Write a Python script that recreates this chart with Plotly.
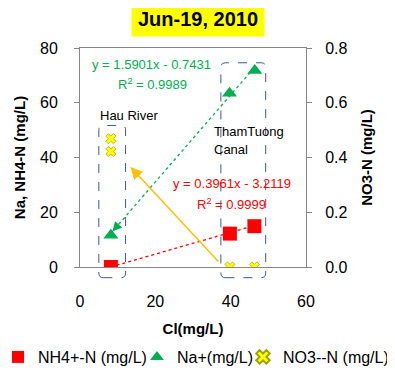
import plotly.graph_objects as go

# ---- data ----
cl_nh4 = [8.2, 39.8, 46.3]
nh4 = [0.0, 12.2, 14.9]
cl_na = [8.2, 39.7, 46.4]
na = [11.6, 63.5, 71.8]
cl_no3 = [8.2, 8.2, 39.8, 46.3]
no3 = [0.469, 0.422, 0.0, 0.0]
nh4_fit = (0.3961, -3.2119)
na_fit = (1.5901, -0.7431)
x_ticks = [0, 20, 40, 60]
y_ticks = [0, 20, 40, 60, 80]
y2_ticks = [0.0, 0.2, 0.4, 0.6, 0.8]

FONT = "Liberation Sans"
RED = "#FF0000"
GREEN = "#00B050"
YEL = "#FFFF00"
GRAY = "#868686"

fig = go.Figure()

# trendlines
tx_n = [min(cl_nh4), max(cl_nh4)]
fig.add_trace(go.Scatter(x=tx_n, y=[nh4_fit[0]*v + nh4_fit[1] for v in tx_n], mode="lines",
                         line=dict(color=RED, width=1.3, dash="dot"), showlegend=False, hoverinfo="skip"))
tx_a = [min(cl_na), max(cl_na)]
fig.add_trace(go.Scatter(x=tx_a, y=[na_fit[0]*v + na_fit[1] for v in tx_a], mode="lines",
                         line=dict(color=GREEN, width=1.3, dash="dot"), showlegend=False, hoverinfo="skip"))

fig.add_trace(go.Scatter(x=cl_nh4, y=nh4, mode="markers", name="NH4+-N (mg/L)", legend="legend",
                         marker=dict(symbol="square", size=14, color=RED)))
fig.add_trace(go.Scatter(x=cl_na, y=na, mode="markers", name="Na+(mg/L)", legend="legend2",
                         marker=dict(symbol="triangle-up", size=13, color=GREEN)))
fig.add_trace(go.Scatter(x=cl_no3, y=no3, mode="markers", name="NO3--N (mg/L)", yaxis="y2",
                         legend="legend3",
                         marker=dict(symbol="x", size=9, color=YEL, line=dict(color="#A0A000", width=0.7))))

def leg(xpx):
    return dict(orientation="h", x=xpx/387, xanchor="left", xref="container",
                y=0.049, yanchor="middle", yref="container", bgcolor="rgba(0,0,0,0)",
                font=dict(size=16), itemwidth=30, indentation=-10, itemsizing="constant")

fig.update_layout(
    width=387, height=367,
    margin=dict(l=72, r=89, t=40, b=108, autoexpand=False),
    paper_bgcolor="white", plot_bgcolor="white",
    font=dict(family=FONT, size=16, color="black"),
    showlegend=True,
    legend=leg(0), legend2=leg(139), legend3=leg(245),
    xaxis=dict(range=[0, 60], tickvals=x_ticks, showgrid=False, zeroline=False,
               showline=True, linecolor=GRAY, linewidth=1, mirror=True, ticks="",
               ticklabelstandoff=20,
               title=dict(text="<b>Cl(mg/L)</b>", font=dict(size=15), standoff=14)),
    yaxis=dict(range=[0, 80], tickvals=y_ticks, showgrid=False, zeroline=False,
               showline=True, linecolor=GRAY, linewidth=1, ticks="outside", ticklen=5,
               tickcolor=GRAY, ticklabelstandoff=13,
               title=dict(text="<b>Na, NH4-N (mg/L)</b>", font=dict(size=15), standoff=10)),
    yaxis2=dict(range=[0, 0.8], tickvals=y2_ticks, tickformat=".1f", overlaying="y", side="right",
                showgrid=False, zeroline=False, showline=True, linecolor=GRAY, linewidth=1,
                ticks="outside", ticklen=5, tickcolor=GRAY, ticklabelstandoff=10,
                title=dict(text="<b>NO3-N (mg/L)</b>", font=dict(size=15), standoff=14)),
)

# dashed rounded boxes (domain refs so they are not clipped)
def rbox(x0, x1, y0, y1, r=0.02):
    X0, X1 = x0/60, x1/60
    Y0, Y1 = y0/80, y1/80
    rx, ry = r, r*1.03
    return (f"M {X0+rx},{Y0} L {X1-rx},{Y0} Q {X1},{Y0} {X1},{Y0+ry} L {X1},{Y1-ry} "
            f"Q {X1},{Y1} {X1-rx},{Y1} L {X0+rx},{Y1} Q {X0},{Y1} {X0},{Y1-ry} "
            f"L {X0},{Y0+ry} Q {X0},{Y0} {X0+rx},{Y0} Z")

for b in [(5.0, 12.1, -3.9, 51.7), (37.4, 49.3, -3.9, 74.6)]:
    fig.add_shape(type="path", path=rbox(*b), xref="x domain", yref="y domain",
                  line=dict(color="#3F5A8A", width=1, dash="dash"), layer="above")

ann_font = dict(family=FONT, size=13)
fig.add_annotation(x=13.1, y=55.4, text="Hau River", showarrow=False, font=ann_font)
fig.add_annotation(x=35.0, y=49.6, text="ThamTuong", showarrow=False, xanchor="left", font=ann_font)
fig.add_annotation(x=35.0, y=42.9, text="Canal", showarrow=False, xanchor="left", font=ann_font)
fig.add_annotation(x=19.0, y=74.0, text="y = 1.5901x - 0.7431", showarrow=False,
                   font=dict(family=FONT, size=13, color=GREEN))
fig.add_annotation(x=19.3, y=67.0, text="R<sup>2</sup> = 0.9989", showarrow=False,
                   font=dict(family=FONT, size=13, color=GREEN))
fig.add_annotation(x=40.3, y=30.4, text="y = 0.3961x - 3.2119", showarrow=False,
                   font=dict(family=FONT, size=13, color=RED))
fig.add_annotation(x=40.2, y=23.1, text="R<sup>2</sup> = 0.9999", showarrow=False,
                   font=dict(family=FONT, size=13, color=RED))

# yellow arrow (TT canal -> Hau river)
fig.add_annotation(x=13.4, y=36.5, ax=37.1, ay=1.5, axref="x", ayref="y", xref="x", yref="y",
                   text="", showarrow=True, arrowhead=2, arrowsize=1.6, arrowwidth=1.5,
                   arrowcolor="#FFC000")
# green arrowhead at the Hau end of the Na trendline
fig.add_annotation(x=8.6, y=na_fit[0]*8.6 + na_fit[1], ax=10.0, ay=na_fit[0]*10.0 + na_fit[1],
                   axref="x", ayref="y", xref="x", yref="y", text="", showarrow=True,
                   arrowhead=2, arrowsize=1.6, arrowwidth=1.2, arrowcolor=GREEN)

# title with yellow background
fig.add_annotation(x=0.52, y=1.0, xref="paper", yref="paper", yanchor="bottom", yshift=11,
                   text="<b>Jun-19, 2010</b>", showarrow=False,
                   font=dict(family=FONT, size=20, color="black"), bgcolor=YEL, borderpad=6)

fig.write_html("out.html")
